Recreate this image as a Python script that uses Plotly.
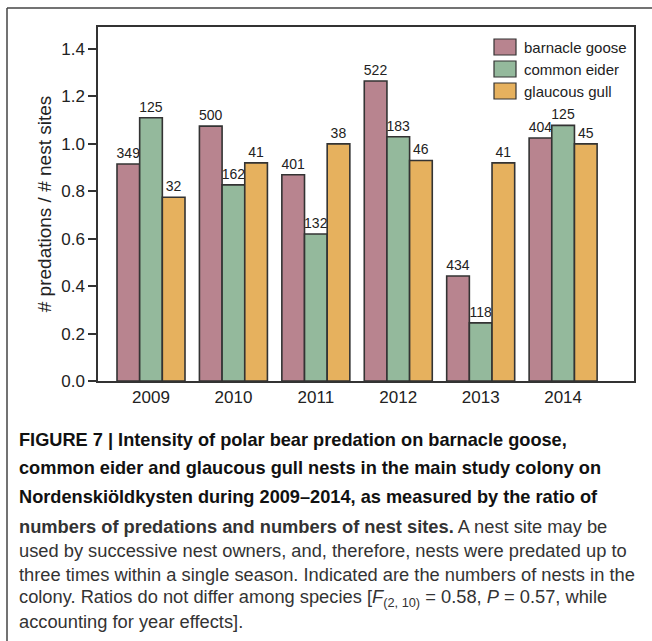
import plotly.graph_objects as go

# Ratio of predations to nest sites per species and year, with nest counts
years = ["2009", "2010", "2011", "2012", "2013", "2014"]
species = ["barnacle goose", "common eider", "glaucous gull"]
goose_ratio = [0.915, 1.075, 0.870, 1.265, 0.443, 1.025]
eider_ratio = [1.110, 0.827, 0.620, 1.030, 0.245, 1.078]
gull_ratio = [0.775, 0.920, 1.000, 0.930, 0.920, 1.000]
goose_nests = [349, 500, 401, 522, 434, 404]
eider_nests = [125, 162, 132, 183, 118, 125]
gull_nests = [32, 41, 38, 46, 41, 45]
colors = ["#b8848f", "#94b99c", "#e6b15e"]
y_ticks = [0.0, 0.2, 0.4, 0.6, 0.8, 1.0, 1.2, 1.4]

W, H = 652, 641
L, R, T, B = 98, 18, 27, 260
PW, PH = W - L - R, H - T - B


def px(x):
    return (x - L) / PW


def py(y):
    return (H - B - y) / PH


fig = go.Figure()
for name, vals, counts, col in zip(
    species,
    [goose_ratio, eider_ratio, gull_ratio],
    [goose_nests, eider_nests, gull_nests],
    colors,
):
    fig.add_trace(go.Bar(
        x=years, y=vals, name=name, marker_color=col,
        marker_line=dict(color="#333333", width=1.6),
        text=[str(c) for c in counts], textposition="outside",
        textfont=dict(family="Liberation Sans Narrow, Liberation Sans, Arial",
                      size=14, color="#222222"),
        constraintext="none", cliponaxis=False, showlegend=False,
    ))

axis_line = dict(showline=True, linecolor="#333333", linewidth=1.5, mirror=True)
fig.update_layout(
    width=W, height=H,
    margin=dict(l=L, r=R, t=T, b=B, autoexpand=False),
    paper_bgcolor="white", plot_bgcolor="white",
    barmode="group", bargap=0.175, bargroupgap=0,
    font=dict(family="Liberation Sans, Arial", color="#222222"),
    xaxis=dict(type="category", range=[-0.643, 5.86], showgrid=False,
               ticks="", tickfont=dict(size=17), **axis_line),
    yaxis=dict(range=[0, 1.493], tickvals=y_ticks,
               ticktext=[f"{v:.1f}" for v in y_ticks],
               ticks="outside", ticklen=8, tickwidth=1.5, tickcolor="#333333",
               showgrid=False, zeroline=False, tickfont=dict(size=17),
               title=dict(text="# predations / # nest sites",
                          font=dict(size=19), standoff=5),
               **axis_line),
)

# Legend: swatches and labels in the upper right corner of the plot
shapes, annotations = [], []
for i, (name, col) in enumerate(zip(species, colors)):
    yc = 47 + i * 22
    shapes.append(dict(type="rect", xref="paper", yref="paper",
                       x0=px(494), x1=px(516), y0=py(yc - 8), y1=py(yc + 8),
                       fillcolor=col, line=dict(color="#333333", width=1.2)))
    annotations.append(dict(xref="paper", yref="paper", x=px(522), y=py(yc),
                            xanchor="left", yanchor="middle", showarrow=False,
                            text=name, font=dict(size=15, color="#222222")))

# Figure frame (top and left rules)
shapes.append(dict(type="line", xref="paper", yref="paper",
                   x0=px(7), x1=px(W), y0=py(8), y1=py(8),
                   line=dict(color="#444444", width=1.5)))
shapes.append(dict(type="line", xref="paper", yref="paper",
                   x0=px(7), x1=px(7), y0=py(8), y1=py(H),
                   line=dict(color="#444444", width=1.5)))

# Caption
caption_bold = [
    "FIGURE 7 | Intensity of polar bear predation on barnacle goose,",
    "common eider and glaucous gull nests in the main study colony on",
    "Nordenskiöldkysten during 2009–2014, as measured by the ratio of",
]
caption_rest = [
    "<b>numbers of predations and numbers of nest sites.</b> A nest site may be",
    "used by successive nest owners, and, therefore, nests were predated up to",
    "three times within a single season. Indicated are the numbers of nests in the",
    "colony. Ratios do not differ among species [<i>F</i><sub>(2, 10)</sub> = 0.58, "
    "<i>P</i> = 0.57, while",
    "accounting for year effects].",
]
bold_y = [440, 468, 497]
rest_y = [526, 550, 574, 598, 621]
for txt, yc in zip(caption_bold, bold_y):
    annotations.append(dict(xref="paper", yref="paper", x=px(17), y=py(yc),
                            xanchor="left", yanchor="middle", showarrow=False,
                            text=f"<b>{txt}</b>",
                            font=dict(size=18.2, color="#111111")))
for txt, yc in zip(caption_rest, rest_y):
    annotations.append(dict(xref="paper", yref="paper", x=px(17), y=py(yc),
                            xanchor="left", yanchor="middle", showarrow=False,
                            text=txt, font=dict(size=18.3, color="#333333")))

fig.update_layout(shapes=shapes, annotations=annotations)
fig.write_html("out.html")
